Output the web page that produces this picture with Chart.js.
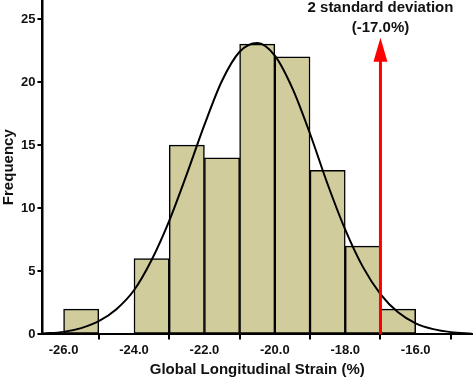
<!DOCTYPE html>
<html>
<head>
<meta charset="utf-8">
<script src="https://cdn.jsdelivr.net/npm/chart.js@4/dist/chart.umd.min.js"></script>
<style>
  html, body { margin: 0; padding: 0; background: #fff; }
  #wrap { width: 474px; height: 379px; }
</style>
</head>
<body>
<div id="wrap"><canvas id="strainChart"></canvas></div>
<script>
// histogram bins (centre of each 1% bin) and counts
const binCentres = [-25.5, -24.5, -23.5, -22.5, -21.5, -20.5, -19.5, -18.5, -17.5, -16.5];
const counts = [2, 0, 6, 15, 14, 23, 22, 13, 7, 2];

// fitted normal curve
const curveX = [-26.6, -26.0, -25.5, -25.0, -24.5, -24.0, -23.5, -23.0, -22.5, -22.0, -21.5, -21.0,
                -20.5, -20.0, -19.5, -19.0, -18.5, -18.0, -17.5, -17.0, -16.5, -16.0, -15.5, -15.0, -14.4];
const curveY = [0.07, 0.2, 0.5, 1.05, 2.0, 3.5, 5.9, 9.0, 12.7, 16.6, 20.1, 22.4,
                23.1, 22.1, 19.5, 15.9, 11.9, 8.3, 5.35, 3.2, 1.75, 0.88, 0.42, 0.18, 0.06];

const xTicks = [-26, -24, -22, -20, -18, -16];
const yTicks = [0, 5, 10, 15, 20, 25];

const cutoff = -17.0;
const arrowTop = 23.5;
const annotationLines = ["2 standard deviation", "(-17.0%)"];

const BAR_COLOR = "rgb(209,204,156)";
const CUTOFF_COLOR = "rgb(255,0,0)";
const FONT = "'Liberation Sans', Arial, sans-serif";

const arrowPlugin = {
    id: "cutoffArrow",
    afterDatasetsDraw(chart) {
        const ctx = chart.ctx;
        const xs = chart.scales.x;
        const ys = chart.scales.y;
        const px = xs.getPixelForValue(cutoff);
        const tip = ys.getPixelForValue(arrowTop);
        const base = ys.getPixelForValue(0);
        const headLen = 24;
        const headHalf = 7;

        ctx.save();
        ctx.strokeStyle = CUTOFF_COLOR;
        ctx.fillStyle = CUTOFF_COLOR;
        ctx.lineWidth = 3;
        ctx.beginPath();
        ctx.moveTo(px, base);
        ctx.lineTo(px, tip + headLen - 2);
        ctx.stroke();
        ctx.beginPath();
        ctx.moveTo(px, tip);
        ctx.lineTo(px - headHalf, tip + headLen);
        ctx.lineTo(px + headHalf, tip + headLen);
        ctx.closePath();
        ctx.fill();

        ctx.fillStyle = "#111";
        ctx.font = "bold 15px " + FONT;
        ctx.textAlign = "center";
        ctx.textBaseline = "middle";
        ctx.fillText(annotationLines[0], px, tip - 30);
        ctx.fillText(annotationLines[1], px, tip - 10);
        ctx.restore();
    }
};

const ctx = document.getElementById("strainChart").getContext("2d");

const strainChart = new Chart(ctx, {
    type: "bar",
    data: {
        datasets: [
            {
                type: "line",
                label: "Normal",
                data: curveX.map((x, i) => ({ x: x, y: curveY[i] })),
                borderColor: "#000",
                borderWidth: 2,
                pointRadius: 0,
                tension: 0.4,
                cubicInterpolationMode: "monotone",
                fill: false,
                order: 0
            },
            {
                label: "Frequency",
                data: binCentres.map((x, i) => ({ x: x, y: counts[i] })),
                backgroundColor: BAR_COLOR,
                borderColor: "#000",
                borderWidth: 1.5,
                borderSkipped: false,
                barPercentage: 1,
                categoryPercentage: 1,
                order: 1
            }
        ]
    },
    options: {
        responsive: true,
        maintainAspectRatio: false,
        animation: false,
        layout: { padding: { top: 0, right: 2, left: 0, bottom: 0 } },
        plugins: {
            legend: { display: false },
            tooltip: { enabled: false }
        },
        scales: {
            x: {
                type: "linear",
                min: -26.6,
                max: -14.4,
                offset: false,
                afterBuildTicks: scale => { scale.ticks = xTicks.map(v => ({ value: v })); },
                ticks: {
                    color: "#111",
                    font: { family: FONT, size: 13, weight: "bold" },
                    padding: 3,
                    maxRotation: 0,
                    callback: v => v.toFixed(1)
                },
                grid: {
                    drawOnChartArea: false,
                    drawTicks: true,
                    tickLength: 5,
                    color: "#000",
                    lineWidth: 2
                },
                border: { display: true, color: "#000", width: 2 },
                title: {
                    display: true,
                    text: "Global Longitudinal Strain (%)",
                    color: "#111",
                    font: { family: FONT, size: 15, weight: "bold" },
                    padding: { top: 0, bottom: 0 }
                }
            },
            y: {
                min: 0,
                max: 26.5,
                afterBuildTicks: scale => { scale.ticks = yTicks.map(v => ({ value: v })); },
                afterFit: scale => { scale.paddingTop = 0; },
                ticks: {
                    color: "#111",
                    font: { family: FONT, size: 13, weight: "bold" },
                    padding: 2
                },
                grid: {
                    drawOnChartArea: false,
                    drawTicks: true,
                    tickLength: 5,
                    color: "#000",
                    lineWidth: 2
                },
                border: { display: true, color: "#000", width: 2.5 },
                title: {
                    display: true,
                    text: "Frequency",
                    color: "#111",
                    font: { family: FONT, size: 15, weight: "bold" },
                    padding: { top: 0, bottom: 1 }
                }
            }
        }
    },
    plugins: [arrowPlugin]
});
</script>
</body>
</html>
